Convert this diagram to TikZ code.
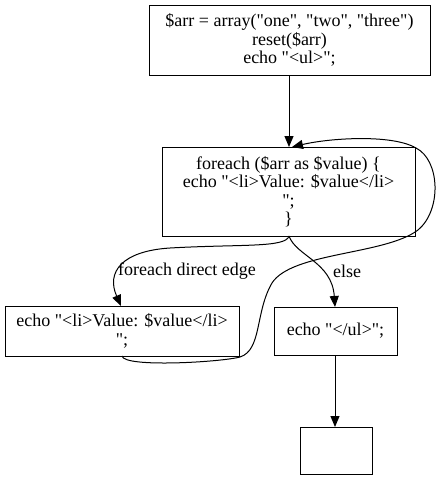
\documentclass[tikz,border=0pt]{standalone}
\usepackage{fontspec}
\setmainfont{Liberation Serif}[Ligatures=TeXOff]
\usetikzlibrary{arrows.meta}
\begin{document}
\begin{tikzpicture}[x=1pt,y=-1pt,
  box/.style={draw=black,line width=1pt,inner sep=0pt,align=center,
    font=\fontsize{18}{18.5}\selectfont},
  arr/.style={draw=black,line width=1pt,-{Triangle[length=11pt,width=9pt]}},
  lab/.style={font=\fontsize{18}{18.5}\selectfont,inner sep=0pt}]
\useasboundingbox (0,0) rectangle (442,480);
\node[box,minimum width=281pt,minimum height=70pt] (top) at (289.5,40)
  {\$arr = array("one", "two", "three")\\reset(\$arr)\\echo "<ul>";};
\node[box,minimum width=253pt,minimum height=89pt] (fe) at (288.5,191.5)
  {foreach (\$arr as \$value) \{\\echo "<li>Value: \$value</li>\\";\\\}};
\node[box,minimum width=234pt,minimum height=50pt] (li) at (122,331)
  {echo "<li>Value: \$value</li>\\";};
\node[box,minimum width=123pt,minimum height=48pt] (ul) at (335.5,331)
  {echo "</ul>";};
\node[box,minimum width=72pt,minimum height=47pt] (end) at (336,450.5) {};
\coordinate (tops) at (289,75);
\coordinate (fetop) at (289,147);
\coordinate (fes) at (289,236);
\coordinate (fen) at (292,147);
\coordinate (lit) at (121,306);
\coordinate (lib) at (122,356);
\coordinate (ult) at (335,307);
\coordinate (ulb) at (335,355);
\coordinate (endt) at (335,427);
\draw[arr] (tops) -- (fetop);
\draw[arr] (fes) .. controls (286,248) and (240,244) .. (170,248)
  .. controls (122,251) and (106,272) .. (lit);
\draw[arr] (fes) .. controls (296,256) and (332,262) .. (ult);
\draw[arr] (lib) .. controls (124,368) and (222,362) .. (240,357)
  .. controls (262,350) and (255,312) .. (272,283)
  .. controls (292,252) and (385,255) .. (418,230)
  .. controls (442,210) and (440,160) .. (416,148)
  .. controls (392,134) and (330,138) .. (fen);
\draw[arr] (ulb) -- (endt);
\node[lab] (l1) at (187,271) {foreach direct edge};
\node[lab] (l2) at (347,271) {else};
\end{tikzpicture}
\end{document}
